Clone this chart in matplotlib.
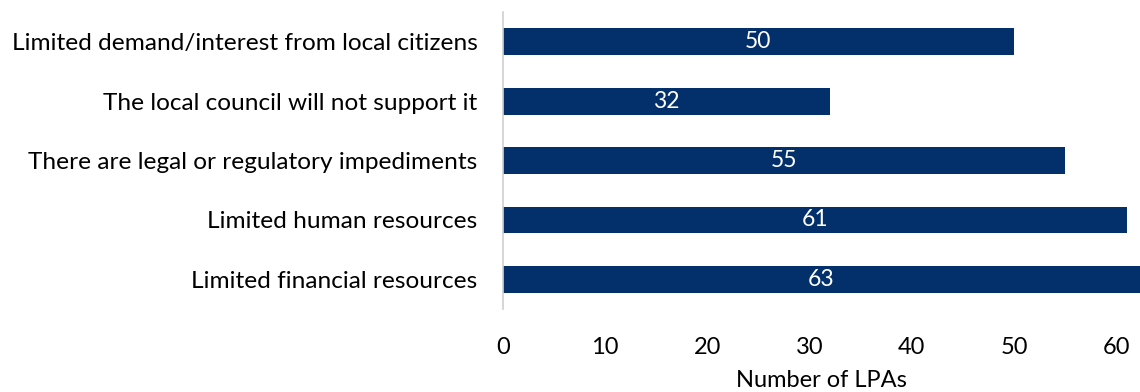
import matplotlib
matplotlib.use("Agg")
import matplotlib.pyplot as plt

categories = [
    "Limited demand/interest from local citizens",
    "The local council will not support it",
    "There are legal or regulatory impediments",
    "Limited human resources",
    "Limited financial resources",
]
values = [50, 32, 55, 61, 63]
xticks = [0, 10, 20, 30, 40, 50, 60]

plt.rcParams["font.family"] = ["Lato", "DejaVu Sans"]

fig = plt.figure(figsize=(11.4, 3.92), dpi=100)
ax = fig.add_axes([0.441, 0.212, 0.559, 0.757])

ypos = list(range(len(categories)))
bars = ax.barh(ypos, values, height=0.45, color="#03306b")
ax.bar_label(bars, labels=[str(v) for v in values], label_type="center",
             color="white", fontsize=16.5)

ax.set_ylim(len(categories) - 0.5, -0.5)
ax.set_xlim(0, 62.3)
ax.set_yticks(ypos)
ax.set_yticklabels(categories, fontsize=17.6)
ax.set_xticks(xticks)
ax.set_xticklabels([str(t) for t in xticks], fontsize=17)
ax.tick_params(axis="both", length=0)
ax.tick_params(axis="y", pad=18)
ax.tick_params(axis="x", pad=20)
ax.set_xlabel("Number of LPAs", fontsize=17, labelpad=9)

ax.spines[["top", "right", "bottom"]].set_visible(False)
ax.spines["left"].set_color("#d0d0d0")
ax.spines["left"].set_linewidth(1.2)

fig.patch.set_facecolor("white")
plt.savefig("out.png", dpi=100)
